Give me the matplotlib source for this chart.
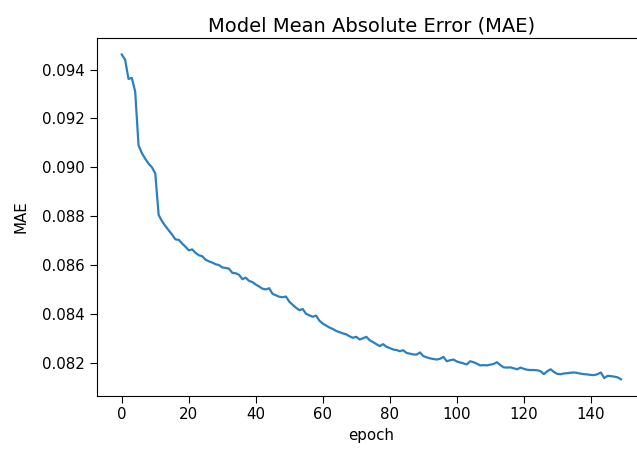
import numpy as np
import matplotlib.pyplot as plt

# MAE per epoch
mae = [
    0.09462, 0.09440, 0.09362, 0.09366, 0.09310, 0.09090, 0.09058, 0.09035, 0.09015, 0.09000,
    0.08975, 0.08805, 0.08780, 0.08760, 0.08742, 0.08725, 0.08705, 0.08703, 0.08688, 0.08675,
    0.08660, 0.08664, 0.08650, 0.08640, 0.08636, 0.08622, 0.08615, 0.08610, 0.08603, 0.08600,
    0.08590, 0.08588, 0.08585, 0.08568, 0.08566, 0.08560, 0.08542, 0.08548, 0.08535, 0.08530,
    0.08520, 0.08512, 0.08503, 0.08500, 0.08505, 0.08482, 0.08476, 0.08470, 0.08468, 0.08471,
    0.08450, 0.08437, 0.08425, 0.08415, 0.08420, 0.08400, 0.08394, 0.08388, 0.08393, 0.08372,
    0.08360, 0.08352, 0.08344, 0.08338, 0.08330, 0.08325, 0.08320, 0.08316, 0.08308, 0.08302,
    0.08306, 0.08295, 0.08300, 0.08306, 0.08292, 0.08284, 0.08276, 0.08268, 0.08276, 0.08265,
    0.08260, 0.08254, 0.08252, 0.08247, 0.08251, 0.08240, 0.08237, 0.08234, 0.08233, 0.08242,
    0.08227, 0.08222, 0.08218, 0.08215, 0.08213, 0.08216, 0.08224, 0.08206, 0.08210, 0.08213,
    0.08205, 0.08201, 0.08197, 0.08193, 0.08206, 0.08202, 0.08196, 0.08189, 0.08190, 0.08189,
    0.08192, 0.08195, 0.08202, 0.08190, 0.08181, 0.08180, 0.08181, 0.08177, 0.08173, 0.08180,
    0.08175, 0.08171, 0.08170, 0.08170, 0.08169, 0.08165, 0.08153, 0.08165, 0.08173, 0.08162,
    0.08154, 0.08153, 0.08156, 0.08157, 0.08159, 0.08160, 0.08158, 0.08155, 0.08153, 0.08152,
    0.08150, 0.08149, 0.08153, 0.08160, 0.08137, 0.08146, 0.08145, 0.08143, 0.08140, 0.08132,
]
epochs = np.arange(len(mae))

plt.rcParams['font.size'] = 10.8

fig = plt.figure(figsize=(6.37, 4.5), dpi=100)
# the reference is cut off on the right, so the axes run past the figure edge
ax = fig.add_axes([0.152, 0.121, 0.862, 0.794])
ax.plot(epochs, mae, color='#2a80c0', linewidth=1.6)
ax.set_title('Model Mean Absolute Error (MAE)', fontsize=14, pad=5)
ax.set_xlabel('epoch')
ax.set_ylabel('MAE', labelpad=10)
ax.set_xticks(range(0, 141, 20))
ax.set_yticks([0.082, 0.084, 0.086, 0.088, 0.090, 0.092, 0.094])
ax.yaxis.set_major_formatter(plt.FormatStrFormatter('%.3f'))
ax.tick_params(length=5)

fig.savefig('out.png', dpi=100)
